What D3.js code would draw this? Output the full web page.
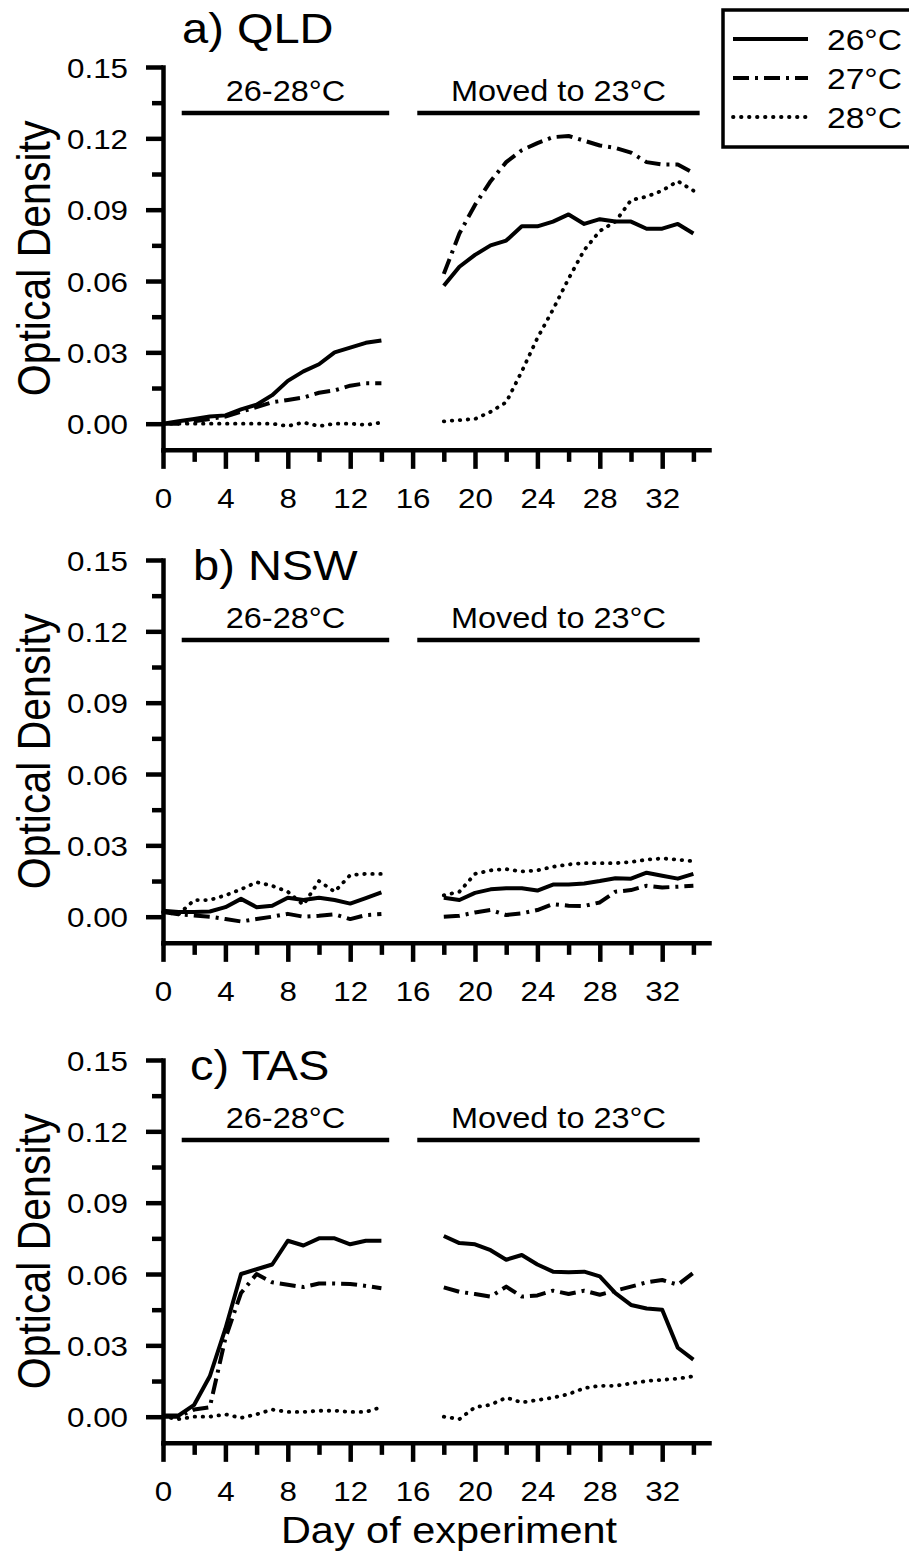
<!DOCTYPE html>
<html>
<head>
<meta charset="utf-8">
<script src="https://cdn.jsdelivr.net/npm/d3@7"></script>
<style>
  body { margin: 0; background: #fff; }
  svg { display: block; font-family: "Liberation Sans", Arial, sans-serif; }
</style>
</head>
<body>
<div id="chart"></div>
<script>
const width = 909;
const height = 1562;

// days sampled before / after the move
const daysEarly = d3.range(0, 15);
const daysLate = d3.range(18, 35);

// a) QLD
const qld26Early = [0.000, 0.001, 0.002, 0.003, 0.0035, 0.006, 0.008, 0.012, 0.018, 0.022, 0.025, 0.030, 0.032, 0.034, 0.035];
const qld26Late  = [0.058, 0.066, 0.071, 0.075, 0.077, 0.083, 0.083, 0.085, 0.088, 0.084, 0.086, 0.085, 0.085, 0.082, 0.082, 0.084, 0.080];
const qld27Early = [0.000, 0.000, 0.001, 0.002, 0.003, 0.005, 0.007, 0.009, 0.010, 0.011, 0.013, 0.014, 0.016, 0.017, 0.017];
const qld27Late  = [0.063, 0.080, 0.092, 0.102, 0.110, 0.115, 0.118, 0.1205, 0.121, 0.119, 0.117, 0.116, 0.114, 0.110, 0.109, 0.109, 0.1055];
const qld28Early = [0.000, 0.000, 0.000, 0.000, 0.000, 0.000, 0.000, 0.000, -0.001, 0.0005, -0.001, 0.000, 0.000, -0.0005, 0.0005];
const qld28Late  = [0.001, 0.0015, 0.002, 0.005, 0.009, 0.022, 0.036, 0.048, 0.061, 0.073, 0.081, 0.085, 0.094, 0.0955, 0.098, 0.102, 0.098];

// b) NSW
const nsw26Early = [0.0025, 0.002, 0.002, 0.0022, 0.004, 0.0075, 0.004, 0.0046, 0.008, 0.007, 0.008, 0.007, 0.0055, 0.0078, 0.0102];
const nsw26Late  = [0.008, 0.007, 0.010, 0.0115, 0.012, 0.012, 0.011, 0.0135, 0.0135, 0.014, 0.015, 0.0162, 0.016, 0.0185, 0.0172, 0.016, 0.018];
const nsw27Early = [0.002, 0.001, 0.0005, 0.000, -0.001, -0.002, -0.001, 0.000, 0.0012, 0.000, 0.0004, 0.001, -0.001, 0.0007, 0.0011];
const nsw27Late  = [0.000, 0.0004, 0.0018, 0.0028, 0.0007, 0.0014, 0.0028, 0.0053, 0.0046, 0.0045, 0.006, 0.0105, 0.0112, 0.013, 0.0123, 0.0126, 0.013];
const nsw28Early = [0.002, 0.001, 0.007, 0.007, 0.009, 0.0115, 0.0145, 0.013, 0.0105, 0.005, 0.015, 0.0105, 0.0175, 0.018, 0.018];
const nsw28Late  = [0.009, 0.0105, 0.018, 0.0195, 0.020, 0.019, 0.0195, 0.021, 0.022, 0.0225, 0.0225, 0.0225, 0.023, 0.024, 0.0245, 0.024, 0.0233];

// c) TAS
const tas26Early = [0.0005, 0.0005, 0.005, 0.017, 0.037, 0.060, 0.062, 0.064, 0.074, 0.072, 0.075, 0.075, 0.0725, 0.074, 0.074];
const tas26Late  = [0.076, 0.073, 0.0725, 0.070, 0.066, 0.068, 0.064, 0.061, 0.0607, 0.061, 0.059, 0.052, 0.047, 0.0455, 0.045, 0.029, 0.024];
const tas27Early = [0.000, 0.000, 0.003, 0.004, 0.033, 0.052, 0.060, 0.0565, 0.0555, 0.0545, 0.056, 0.056, 0.0558, 0.055, 0.054];
const tas27Late  = [0.0544, 0.0525, 0.0516, 0.0505, 0.0547, 0.0505, 0.051, 0.053, 0.0516, 0.053, 0.0513, 0.053, 0.0547, 0.0565, 0.0575, 0.0555, 0.0605];
const tas28Early = [0.000, -0.001, 0.000, 0.000, 0.001, -0.0005, 0.001, 0.003, 0.002, 0.002, 0.0025, 0.0025, 0.002, 0.002, 0.004];
const tas28Late  = [0.000, -0.001, 0.004, 0.005, 0.008, 0.006, 0.007, 0.008, 0.0095, 0.012, 0.013, 0.013, 0.014, 0.015, 0.0155, 0.016, 0.017];

const temps = ["26°C", "27°C", "28°C"];
const panelTitles = ["a) QLD", "b) NSW", "c) TAS"];
const phaseLabels = ["26-28°C", "Moved to 23°C"];
const phaseSpans = [[1.2, 14.5], [16.3, 34.4]];
const xMajor = d3.range(0, 33, 4);
const xMinor = d3.range(2, 35, 4);
const yMajor = [0, 0.03, 0.06, 0.09, 0.12, 0.15];
const yMinor = [0.015, 0.045, 0.075, 0.105, 0.135];

const panels = [
  { title: panelTitles[0], early: [qld26Early, qld27Early, qld28Early], late: [qld26Late, qld27Late, qld28Late] },
  { title: panelTitles[1], early: [nsw26Early, nsw27Early, nsw28Early], late: [nsw26Late, nsw27Late, nsw28Late] },
  { title: panelTitles[2], early: [tas26Early, tas27Early, tas28Early], late: [tas26Late, tas27Late, tas28Late] }
];

// placement of each panel (top = y pixel of 0.15)
const layout = [
  { top: 67,   titleX: 182, titleDy: -24, phaseVal: 0.1307 },
  { top: 560,  titleX: 193, titleDy: 20,  phaseVal: 0.1164 },
  { top: 1060, titleX: 190, titleDy: 20,  phaseVal: 0.1164 }
];

// the original figure is a bit wider than tall
const stretch = 1.12;

// line styles per temperature
const lineStyles = [
  { dash: null, cap: "butt", width: 4 },
  { dash: "16,6,3,6", cap: "butt", width: 4 },
  { dash: "0.5,7.5", cap: "round", width: 3.8 }
];

const svg = d3.select('#chart')
  .append('svg')
  .attr('width', width)
  .attr('height', height);

svg.append("rect").attr("width", width).attr("height", height).attr("fill", "#fff");

const x = d3.scaleLinear().domain([0, 35]).range([163, 709]);

function stretchedText(g, tx, ty, str, size, anchor) {
  return g.append("text")
    .attr("transform", `translate(${tx},${ty}) scale(${stretch},1)`)
    .attr("text-anchor", anchor || "start")
    .attr("font-size", size)
    .attr("fill", "#000")
    .text(str);
}

function styleAxis(g) {
  g.attr("font-family", null).attr("font-size", null);
  g.selectAll("path, line").attr("stroke", "#000").attr("stroke-width", 4.5);
  g.select(".domain").attr("stroke-linecap", "square");
}

panels.forEach((p, i) => {
  const L = layout[i];
  const y = d3.scaleLinear().domain([-0.011, 0.15]).range([L.top + 0.161 * 2378, L.top]);
  const g = svg.append("g");

  // Axe Y
  const yAxis = g.append("g")
    .attr("transform", `translate(${x(0)},0)`)
    .call(d3.axisLeft(y).tickValues(yMajor).tickSize(17).tickSizeOuter(0).tickFormat(d3.format(".2f")));
  styleAxis(yAxis);
  yAxis.selectAll("text")
    .attr("x", null).attr("dy", "0.36em")
    .attr("transform", `translate(-35,0) scale(${stretch},1)`)
    .attr("font-size", 28).attr("fill", "#000");

  const yMinorAxis = g.append("g")
    .attr("transform", `translate(${x(0)},0)`)
    .call(d3.axisLeft(y).tickValues(yMinor).tickSize(11).tickFormat(""));
  yMinorAxis.select(".domain").remove();
  styleAxis(yMinorAxis);

  // Axe X
  const xAxis = g.append("g")
    .attr("transform", `translate(0,${y(-0.011)})`)
    .call(d3.axisBottom(x).tickValues(xMajor).tickSize(19).tickSizeOuter(0));
  styleAxis(xAxis);
  xAxis.selectAll("text")
    .attr("y", null).attr("dy", null)
    .attr("transform", `translate(0,58) scale(${stretch},1)`)
    .attr("font-size", 28).attr("fill", "#000");

  const xMinorAxis = g.append("g")
    .attr("transform", `translate(0,${y(-0.011)})`)
    .call(d3.axisBottom(x).tickValues(xMinor).tickSize(12).tickFormat(""));
  xMinorAxis.select(".domain").remove();
  styleAxis(xMinorAxis);

  // Y label
  g.append("text")
    .attr("transform", `translate(50,${(y(0.15) + y(-0.011)) / 2}) scale(${stretch},1) rotate(-90)`)
    .attr("text-anchor", "middle")
    .attr("font-size", 41)
    .attr("fill", "#000")
    .text("Optical Density");

  // Titre du panneau
  stretchedText(g, L.titleX, L.top + L.titleDy, p.title, 42);

  // Phase bars and labels
  phaseSpans.forEach((span, k) => {
    g.append("line")
      .attr("x1", x(span[0])).attr("x2", x(span[1]))
      .attr("y1", y(L.phaseVal)).attr("y2", y(L.phaseVal))
      .attr("stroke", "#000").attr("stroke-width", 4.5);
    stretchedText(g, (x(span[0]) + x(span[1])) / 2, y(L.phaseVal) - 12, phaseLabels[k], 29, "middle");
  });

  // Courbes
  const line = d3.line().x(d => x(d[0])).y(d => y(d[1]));
  temps.forEach((t, j) => {
    const st = lineStyles[j];
    [[daysEarly, p.early[j]], [daysLate, p.late[j]]].forEach(([days, vals]) => {
      g.append("path")
        .datum(days.map((d, k) => [d, vals[k]]))
        .attr("d", line)
        .attr("fill", "none")
        .attr("stroke", "#000")
        .attr("stroke-width", st.width)
        .attr("stroke-linecap", st.cap)
        .attr("stroke-linejoin", "round")
        .attr("stroke-dasharray", st.dash);
    });
  });
});

// X title
stretchedText(svg, 449, 1543, "Day of experiment", 37, "middle");

// Légende
const legend = svg.append("g");
legend.append("rect")
  .attr("x", 723).attr("y", 10)
  .attr("width", 200).attr("height", 137)
  .attr("fill", "#fff").attr("stroke", "#000").attr("stroke-width", 3.5);

const legendItems = legend.selectAll(".legend-item")
  .data(temps)
  .enter()
  .append("g")
  .attr("class", "legend-item")
  .attr("transform", (d, i) => `translate(0, ${39 + i * 39})`);

legendItems.append("line")
  .attr("x1", 733).attr("x2", 808)
  .attr("stroke", "#000")
  .attr("stroke-width", (d, i) => lineStyles[i].width)
  .attr("stroke-linecap", (d, i) => lineStyles[i].cap)
  .attr("stroke-dasharray", (d, i) => lineStyles[i].dash);

legendItems.append("text")
  .attr("transform", `translate(827,11) scale(${stretch},1)`)
  .attr("font-size", 30)
  .attr("fill", "#000")
  .text(d => d);
</script>
</body>
</html>
